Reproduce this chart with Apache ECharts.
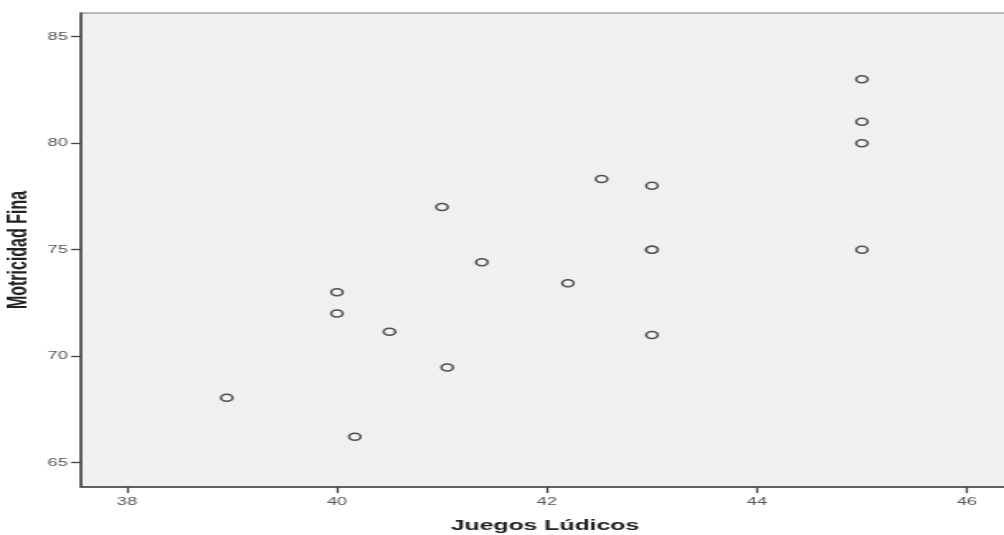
<!DOCTYPE html>
<html><head><meta charset="utf-8">
<script src="https://cdn.jsdelivr.net/npm/echarts@6/dist/echarts.min.js"></script>
<style>
html,body{margin:0;padding:0;background:#fff;overflow:hidden}
#wrap{width:1004px;height:535px;overflow:hidden}
#c{width:608px;height:535px;transform:scaleX(1.6513);transform-origin:0 0}
</style>
</head><body><div id="wrap"><div id="c"></div></div>
<script>
const juegosLudicos = [38.95, 40.17, 40, 40, 40.5, 41.05, 41, 41.38, 42.2, 42.52, 43, 43, 43, 43, 45, 45, 45, 45];
const motricidadFina = [68.05, 66.22, 73, 72, 71.15, 69.47, 77, 74.41, 73.42, 78.32, 78, 75, 75, 71, 83, 81, 80, 75];
const xTicks = [38, 40, 42, 44, 46];
const yTicks = [65, 70, 75, 80, 85];

const data = juegosLudicos.map((x, i) => [x, motricidadFina[i]]);
const chart = echarts.init(document.getElementById('c'), null, {renderer: 'canvas'});
const labelStyle = {color: '#555', fontFamily: 'Liberation Sans, Arial, sans-serif', fontSize: 11};
chart.setOption({
  animation: false,
  backgroundColor: '#fff',
  grid: {left: 49.05, top: 13, right: -3, bottom: 48, outerBoundsMode: 'none', containLabel: false,
         show: true, backgroundColor: '#f0f0f0', borderColor: '#777', borderWidth: 1.2},
  xAxis: {
    type: 'value', min: 37.562, max: 46.4,
    name: 'Juegos Lúdicos', nameLocation: 'middle', nameGap: 31, nameMoveOverlap: false,
    nameTextStyle: {fontFamily: 'Liberation Sans, Arial, sans-serif', fontWeight: 'bold', fontSize: 15, color: '#222'},
    axisLine: {show: true, onZero: false, lineStyle: {color: '#444', width: 1.5}},
    axisTick: {show: true, customValues: xTicks, length: 6, lineStyle: {color: '#444', width: 1.3}},
    axisLabel: Object.assign({customValues: xTicks, margin: 9}, labelStyle),
    splitLine: {show: false}
  },
  yAxis: {
    type: 'value', min: 63.86, max: 86.11,
    name: 'Motricidad Fina', nameLocation: 'middle', nameGap: 29, nameRotate: 90, nameMoveOverlap: false,
    nameTextStyle: {fontFamily: 'Liberation Sans, Arial, sans-serif', fontWeight: 'bold', fontSize: 16, color: '#222'},
    axisLine: {show: true, onZero: false, lineStyle: {color: '#444', width: 1.5}},
    axisTick: {show: true, customValues: yTicks, length: 6, lineStyle: {color: '#444', width: 1.3}},
    axisLabel: Object.assign({customValues: yTicks, margin: 8}, labelStyle),
    splitLine: {show: false}
  },
  series: [{
    type: 'scatter',
    data: data,
    symbol: 'circle',
    symbolSize: 7,
    itemStyle: {color: '#f4f4f4', borderColor: '#505050', borderWidth: 1.5, opacity: 1}
  }]
});
</script></body></html>
